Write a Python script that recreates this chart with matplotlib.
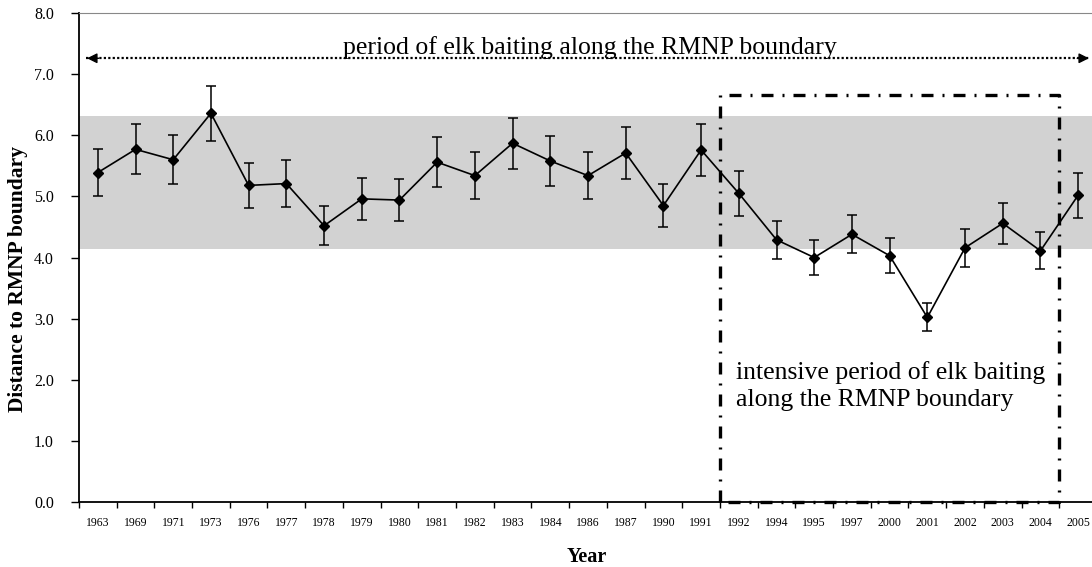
import numpy as np
import matplotlib.pyplot as plt

plt.rcParams['font.family'] = ['Liberation Serif', 'DejaVu Serif']

years = ['1963', '1969', '1971', '1973', '1976', '1977', '1978', '1979', '1980',
         '1981', '1982', '1983', '1984', '1986', '1987', '1990', '1991', '1992',
         '1994', '1995', '1997', '2000', '2001', '2002', '2003', '2004', '2005']
distance = [5.39, 5.77, 5.60, 6.36, 5.18, 5.21, 4.52, 4.96, 4.94,
            5.56, 5.34, 5.87, 5.58, 5.34, 5.71, 4.85, 5.76, 5.05,
            4.29, 4.00, 4.38, 4.03, 3.02, 4.16, 4.56, 4.11, 5.02]
err = [0.38, 0.41, 0.40, 0.45, 0.37, 0.38, 0.32, 0.34, 0.35,
       0.41, 0.39, 0.42, 0.41, 0.39, 0.42, 0.35, 0.42, 0.37,
       0.31, 0.29, 0.31, 0.29, 0.23, 0.31, 0.34, 0.30, 0.37]
band_low, band_high = 4.14, 6.31
box_top = 6.66
arrow_y = 7.26

fig = plt.figure(figsize=(10.92, 5.67), dpi=100)
ax = fig.add_axes([0.0723, 0.1146, 0.9323, 0.8624])

x = np.arange(len(years))
ax.axhspan(band_low, band_high, facecolor='#d2d2d2', edgecolor='none', zorder=0)

ax.errorbar(x, distance, yerr=err, color='black', lw=1.2, marker='D', ms=5,
            capsize=3.5, elinewidth=1.1, capthick=1.1, zorder=3)

# intensive period box
ax.plot([16.5, 16.5, 25.5, 25.5, 16.5], [0, box_top, box_top, 0, 0], color='black',
        lw=2.4, dashes=(3.6, 2.7, 0.6, 2.7), zorder=4, clip_on=False)
ax.text(16.93, 1.9, 'intensive period of elk baiting\nalong the RMNP boundary',
        fontsize=18.5, ha='left', va='center', linespacing=1.33)

# full period arrow
ax.plot([-0.3, 26.3], [arrow_y, arrow_y], color='black', lw=1.6,
        linestyle=(0, (1, 1)), clip_on=False)
ax.annotate('', xy=(-0.36, arrow_y), xytext=(0.1, arrow_y),
            arrowprops=dict(arrowstyle='-|>', color='black', lw=1, mutation_scale=15))
ax.annotate('', xy=(26.36, arrow_y), xytext=(25.9, arrow_y),
            arrowprops=dict(arrowstyle='-|>', color='black', lw=1, mutation_scale=15),
            annotation_clip=False)
ax.text(13.05, arrow_y - 0.02, 'period of elk baiting along the RMNP boundary',
        fontsize=18.5, ha='center', va='bottom')

ax.set_xlim(-0.5, 26.5)
ax.set_ylim(0, 8)
ax.set_yticks(np.arange(0, 8.1, 1.0))
ax.set_yticklabels(['%.1f' % v for v in np.arange(0, 8.1, 1.0)], fontsize=11.5)
ax.set_xticks(x)
ax.set_xticklabels(years, fontsize=8.5)
ax.set_xticks(np.arange(-0.5, 26.6, 1), minor=True)
ax.tick_params(axis='x', which='major', length=0, pad=11)
ax.tick_params(axis='x', which='minor', length=4, width=1, direction='out')
ax.tick_params(axis='y', length=6, width=1, direction='out', pad=12)

ax.spines['top'].set_color('#888888')
ax.spines['top'].set_linewidth(0.8)
ax.spines['right'].set_visible(False)
ax.spines['left'].set_linewidth(1.3)
ax.spines['bottom'].set_linewidth(1.3)

fig.text(18 / 1092, 0.508, 'Distance to RMNP boundary', rotation=90,
         fontsize=15.5, fontweight='bold', ha='center', va='center')
fig.text(587 / 1092, 0.017, 'Year', fontsize=14.5, fontweight='bold',
         ha='center', va='center')

fig.savefig('out.png', dpi=100)
